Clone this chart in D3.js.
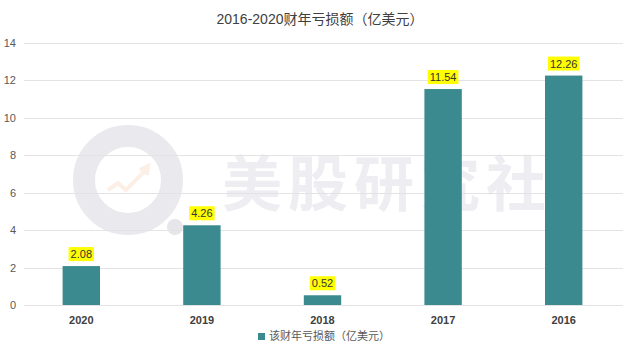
<!DOCTYPE html>
<html>
<head>
<meta charset="utf-8">
<script src="https://d3js.org/d3.v7.min.js"></script>
<style>
  body { margin: 0; background: #fff; }
  svg { display: block; font-family: "Liberation Sans", Arial, sans-serif; }
</style>
</head>
<body>
<svg id="chart" width="640" height="363"></svg>
<script>
'use strict';

const years = ['2020', '2019', '2018', '2017', '2016'];
const losses = [2.08, 4.26, 0.52, 11.54, 12.26];
const yTicks = [0, 2, 4, 6, 8, 10, 12, 14];
const titleText = '2016-2020财年亏损额（亿美元）';
const legendText = '该财年亏损额（亿美元）';

const width = 640, height = 363;
const margin = { top: 43, right: 17, bottom: 58, left: 24 };
const barColor = '#3b8a8f';

const svg = d3.select('#chart');

const x = d3.scaleBand()
  .domain(years)
  .range([margin.left - 3, width - margin.right + 1])
  .paddingInner(0.69)
  .paddingOuter(0.345);

const y = d3.scaleLinear()
  .domain([0, 14])
  .range([height - margin.bottom, margin.top]);

// watermark (behind everything)
const wm = svg.append('g').attr('class', 'watermark');
wm.append('circle')
  .attr('cx', 128).attr('cy', 180).attr('r', 44)
  .attr('fill', 'none').attr('stroke', '#eaeaee').attr('stroke-width', 22);
wm.append('circle')
  .attr('cx', 175).attr('cy', 227).attr('r', 8)
  .attr('fill', '#e6e6ea');
wm.append('path')
  .attr('d', 'M108,190 L118,183 L126,190 L146,170 M140,170 L148,166 L147,175')
  .attr('fill', 'none').attr('stroke', '#fcefe6').attr('stroke-width', 4);
wm.append('text')
  .attr('x', 222).attr('y', 206)
  .attr('font-family', '"Noto Sans CJK SC", sans-serif')
  .attr('font-size', 60).attr('font-weight', 700)
  .attr('fill', '#eeeef2')
  .attr('letter-spacing', 6)
  .text('美股研究社');

// gridlines
svg.append('g')
  .selectAll('line')
  .data(yTicks)
  .join('line')
  .attr('x1', margin.left)
  .attr('x2', width - margin.right)
  .attr('y1', d => Math.round(y(d)) + 0.5)
  .attr('y2', d => Math.round(y(d)) + 0.5)
  .attr('stroke', '#e3e3e3')
  .attr('stroke-width', 1);

// y axis labels
svg.append('g')
  .selectAll('text')
  .data(yTicks)
  .join('text')
  .attr('x', 16)
  .attr('y', d => y(d) + 4)
  .attr('text-anchor', 'end')
  .attr('font-size', 11)
  .attr('fill', '#595959')
  .text(d => d);

// bars
svg.append('g')
  .selectAll('rect')
  .data(years)
  .join('rect')
  .attr('x', d => x(d))
  .attr('width', x.bandwidth())
  .attr('y', (d, i) => y(losses[i]))
  .attr('height', (d, i) => y(0) - y(losses[i]))
  .attr('fill', barColor);

// value labels with yellow boxes
const lbl = svg.append('g')
  .selectAll('g')
  .data(years)
  .join('g')
  .attr('transform', (d, i) => `translate(${x(d) + x.bandwidth() / 2},${y(losses[i]) - 8})`);

lbl.append('text')
  .attr('text-anchor', 'middle')
  .attr('font-size', 11)
  .attr('fill', '#333')
  .text((d, i) => losses[i].toFixed(2))
  .each(function() {
    const b = this.getBBox();
    d3.select(this.parentNode).insert('rect', 'text')
      .attr('x', b.x - 2).attr('y', b.y - 1)
      .attr('width', b.width + 4).attr('height', b.height + 2)
      .attr('fill', '#ffff00');
  });

// x axis labels
svg.append('g')
  .selectAll('text')
  .data(years)
  .join('text')
  .attr('x', d => x(d) + x.bandwidth() / 2)
  .attr('y', y(0) + 19)
  .attr('text-anchor', 'middle')
  .attr('font-size', 11)
  .attr('font-weight', 700)
  .attr('fill', '#404040')
  .text(d => d);

// title
svg.append('text')
  .attr('x', width / 2)
  .attr('y', 24)
  .attr('text-anchor', 'middle')
  .attr('font-size', 14)
  .attr('font-family', '"Liberation Sans", "Noto Sans CJK SC", sans-serif')
  .attr('fill', '#404040')
  .text(titleText);

// legend
const leg = svg.append('g').attr('transform', 'translate(258,340)');
leg.append('rect')
  .attr('x', 0).attr('y', -7).attr('width', 7).attr('height', 7)
  .attr('fill', barColor);
leg.append('text')
  .attr('x', 11).attr('y', 0)
  .attr('font-size', 11)
  .attr('font-family', '"Noto Sans CJK SC", sans-serif')
  .attr('fill', '#595959')
  .text(legendText);
</script>
</body>
</html>
